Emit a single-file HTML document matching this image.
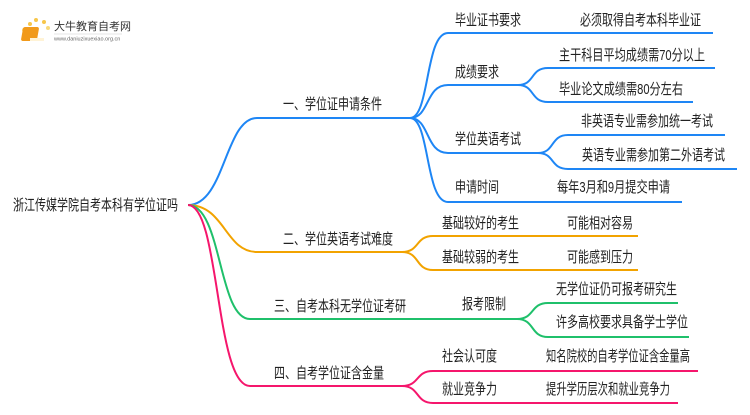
<!DOCTYPE html>
<html><head><meta charset="utf-8"><style>
html,body{margin:0;padding:0;background:#fff;}
svg text{font-family:"Liberation Sans","Noto Sans CJK SC",sans-serif;font-size:15px;fill:#222;dominant-baseline:middle;}
</style></head><body>
<svg width="750" height="410" viewBox="0 0 750 410" xmlns="http://www.w3.org/2000/svg">
<g fill="none" stroke-width="2">
<g stroke="#1e86f5">
<path d="M188,205 C225,205 225,118 257,118 L410,118"/>
<path d="M410,118 C430,118 425,33 448,33 L713,33"/>
<path d="M410,118 C430,118 425,85 448,85 L518,85"/>
<path d="M518,85 C535,85 530,68 548,68 L715,68"/>
<path d="M518,85 C535,85 530,102 548,102 L693,102"/>
<path d="M410,118 C430,118 425,153 448,153 L538,153"/>
<path d="M538,153 C555,153 550,135 568,135 L725,135"/>
<path d="M538,153 C555,153 550,169 568,169 L737,169"/>
<path d="M410,118 C430,118 425,202 448,202 L682,202"/>
</g>
<g stroke="#f2a300">
<path d="M188,205 C225,205 225,252 257,252 L402,252"/>
<path d="M402,252 C420,252 415,236 433,236 L638,236"/>
<path d="M402,252 C420,252 415,270 433,270 L638,270"/>
</g>
<g stroke="#1fc06b">
<path d="M188,205 C222,205 218,319 250,319 L517,319"/>
<path d="M517,319 C535,319 530,303 548,303 L678,303"/>
<path d="M517,319 C535,319 530,337 548,337 L689,337"/>
</g>
<g stroke="#f5166c">
<path d="M188,205 C220,205 215,386 250,386 L402,386"/>
<path d="M402,386 C420,386 415,371 433,371 L698,371"/>
<path d="M402,386 C420,386 415,403 433,403 L678,403"/>
</g>
</g>
<g>
<circle cx="30" cy="24" r="2" fill="#f7c64a"/><circle cx="36" cy="20" r="2" fill="#f7c64a"/><circle cx="44" cy="22" r="2" fill="#f7c64a"/><circle cx="24" cy="30" r="2" fill="#f9d97a"/><circle cx="48" cy="28" r="2" fill="#f9d97a"/><circle cx="23" cy="38" r="1.5" fill="#fbe3a0"/>
<rect x="28" y="27" width="16" height="14" rx="2" fill="#f19a1b" transform="skewX(-10)"/>
<rect x="30" y="38" width="14" height="3" fill="#fff3d6"/>
<text x="54" y="27" style="font-size:11px;fill:#333">大牛教育自考网</text>
<line x1="54" y1="34" x2="122" y2="34" stroke="#ccc" stroke-width="0.5"/>
<text x="54" y="39" style="font-size:5.5px;fill:#666">www.daniuzixuexiao.org.cn</text>
</g>
<g>
<text x="13" y="206" textLength="165" lengthAdjust="spacingAndGlyphs">浙江传媒学院自考本科有学位证吗</text>
<text x="283" y="105" textLength="99" lengthAdjust="spacingAndGlyphs">一、学位证申请条件</text>
<text x="455" y="21" textLength="66" lengthAdjust="spacingAndGlyphs">毕业证书要求</text>
<text x="580" y="21" textLength="121" lengthAdjust="spacingAndGlyphs">必须取得自考本科毕业证</text>
<text x="455" y="73" textLength="44" lengthAdjust="spacingAndGlyphs">成绩要求</text>
<text x="559" y="56" textLength="146" lengthAdjust="spacingAndGlyphs">主干科目平均成绩需70分以上</text>
<text x="559" y="90" textLength="124" lengthAdjust="spacingAndGlyphs">毕业论文成绩需80分左右</text>
<text x="455" y="140" textLength="66" lengthAdjust="spacingAndGlyphs">学位英语考试</text>
<text x="581" y="122" textLength="132" lengthAdjust="spacingAndGlyphs">非英语专业需参加统一考试</text>
<text x="582" y="156" textLength="143" lengthAdjust="spacingAndGlyphs">英语专业需参加第二外语考试</text>
<text x="455" y="188" textLength="44" lengthAdjust="spacingAndGlyphs">申请时间</text>
<text x="557" y="188" textLength="113" lengthAdjust="spacingAndGlyphs">每年3月和9月提交申请</text>
<text x="283" y="240" textLength="110" lengthAdjust="spacingAndGlyphs">二、学位英语考试难度</text>
<text x="442" y="224" textLength="77" lengthAdjust="spacingAndGlyphs">基础较好的考生</text>
<text x="567" y="224" textLength="66" lengthAdjust="spacingAndGlyphs">可能相对容易</text>
<text x="442" y="258" textLength="77" lengthAdjust="spacingAndGlyphs">基础较弱的考生</text>
<text x="567" y="258" textLength="66" lengthAdjust="spacingAndGlyphs">可能感到压力</text>
<text x="274" y="307" textLength="132" lengthAdjust="spacingAndGlyphs">三、自考本科无学位证考研</text>
<text x="462" y="305" textLength="44" lengthAdjust="spacingAndGlyphs">报考限制</text>
<text x="556" y="290" textLength="121" lengthAdjust="spacingAndGlyphs">无学位证仍可报考研究生</text>
<text x="556" y="323" textLength="132" lengthAdjust="spacingAndGlyphs">许多高校要求具备学士学位</text>
<text x="274" y="374" textLength="110" lengthAdjust="spacingAndGlyphs">四、自考学位证含金量</text>
<text x="442" y="357" textLength="55" lengthAdjust="spacingAndGlyphs">社会认可度</text>
<text x="546" y="357" textLength="144" lengthAdjust="spacingAndGlyphs">知名院校的自考学位证含金量高</text>
<text x="442" y="390" textLength="55" lengthAdjust="spacingAndGlyphs">就业竞争力</text>
<text x="546" y="390" textLength="124" lengthAdjust="spacingAndGlyphs">提升学历层次和就业竞争力</text>
</g>
</svg>
</body></html>
